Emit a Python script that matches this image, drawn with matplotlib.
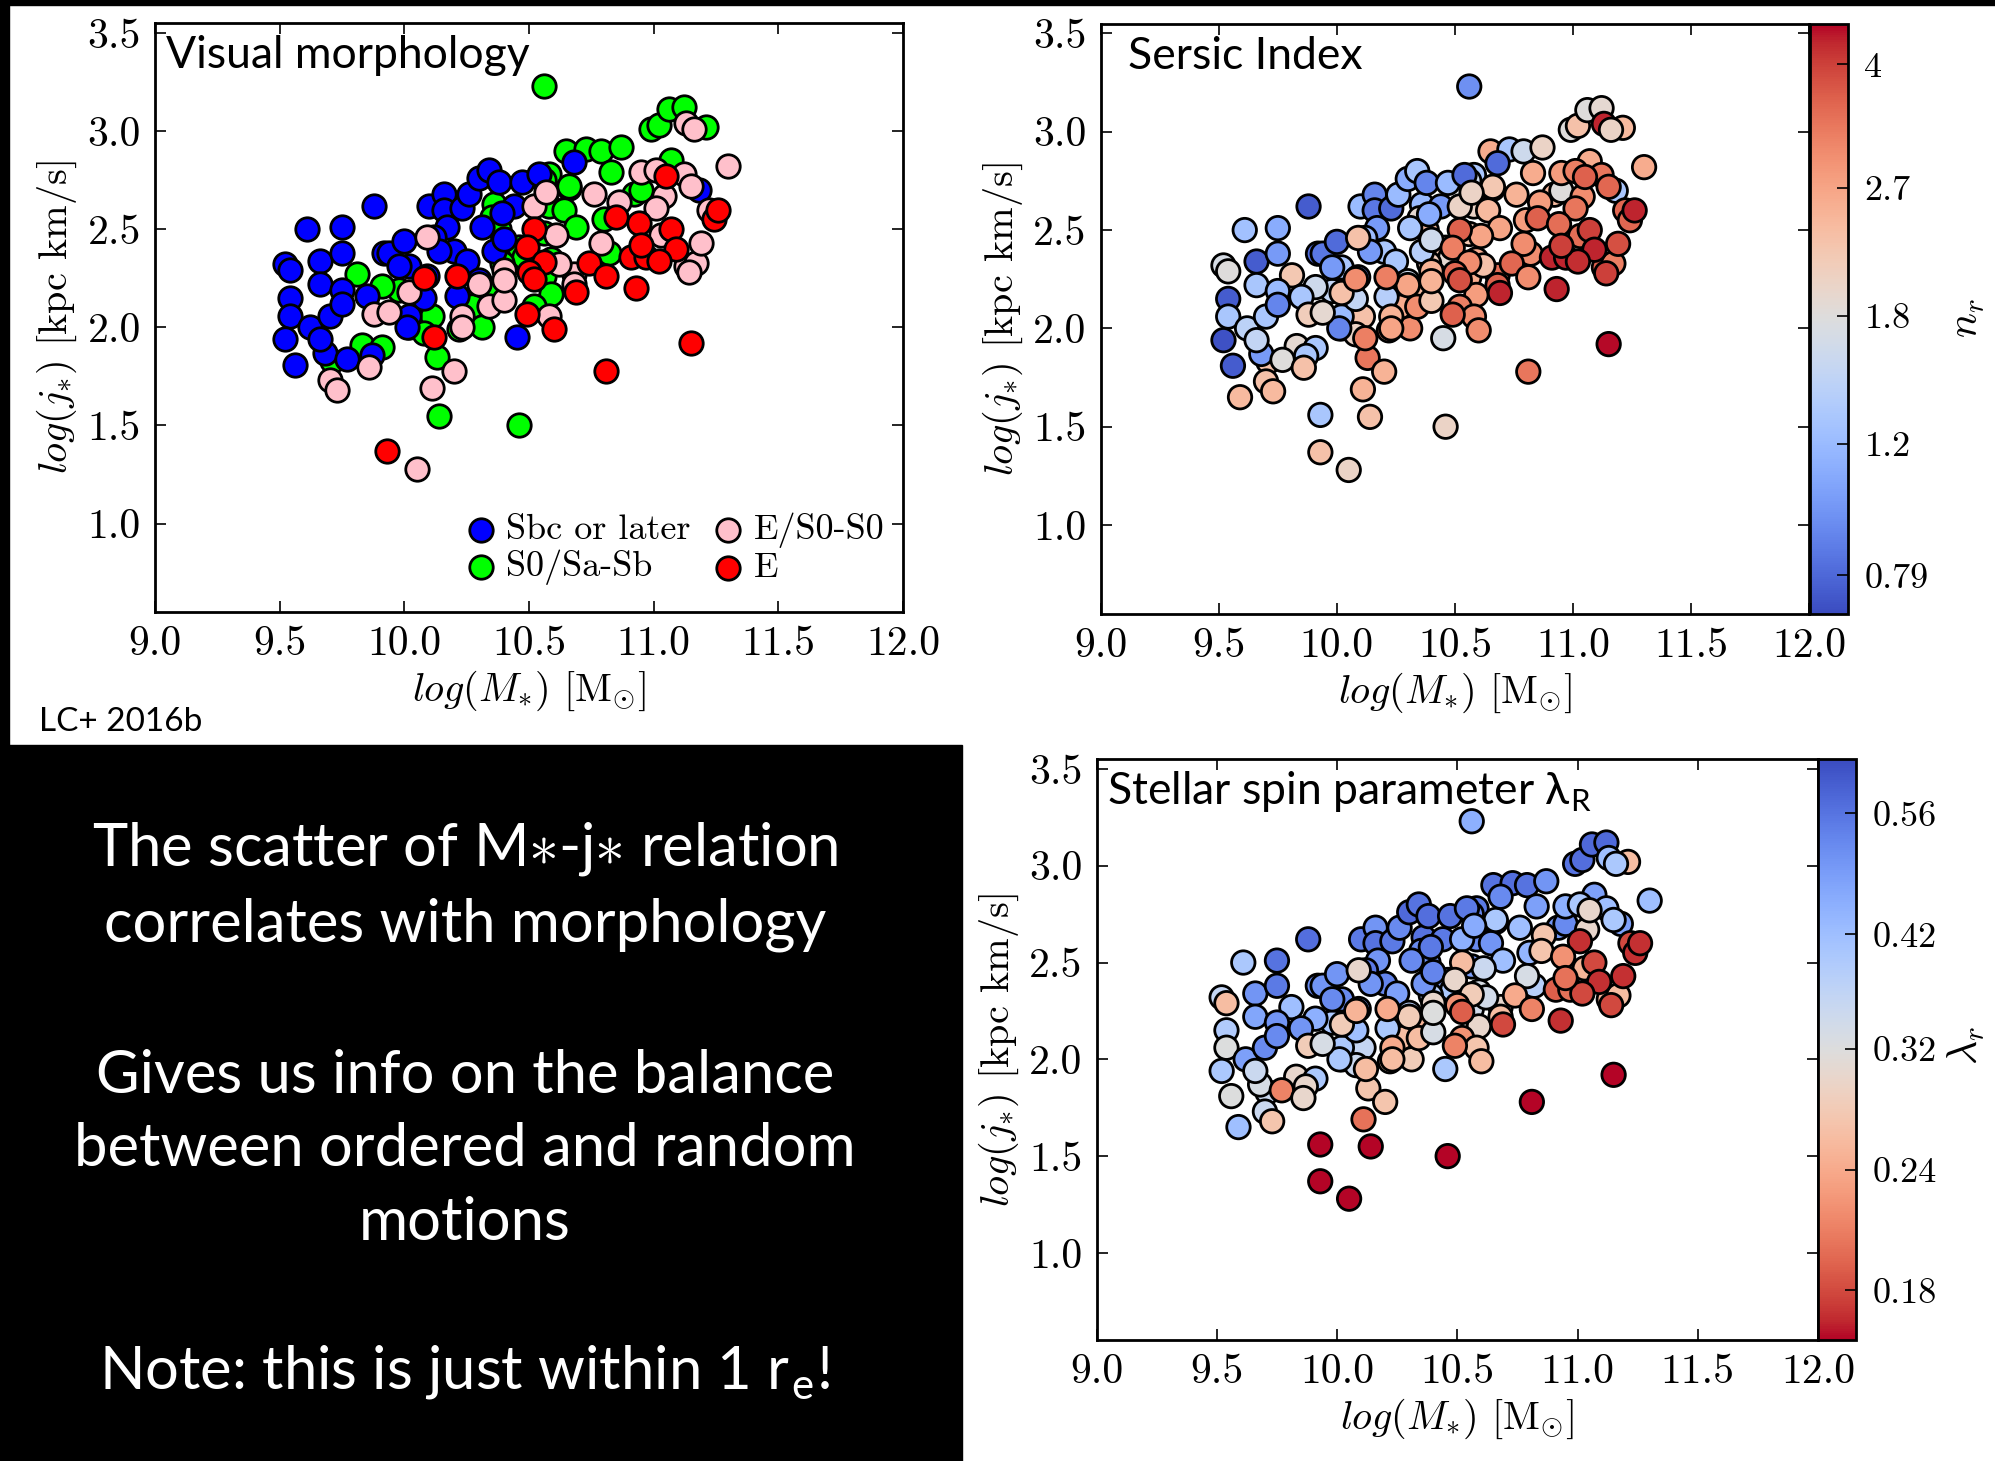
import numpy as np
import matplotlib
matplotlib.use("Agg")
import matplotlib.pyplot as plt
from matplotlib.colors import LogNorm
from matplotlib.patches import Rectangle
from matplotlib.ticker import FormatStrFormatter

plt.rcParams['font.family'] = 'serif'
plt.rcParams['font.serif'] = ['cmr10']
plt.rcParams['mathtext.fontset'] = 'cm'
plt.rcParams['axes.formatter.use_mathtext'] = True
plt.rcParams['axes.unicode_minus'] = False

# Sbc or later
x_sbc = [9.52, 9.54, 9.54, 9.54, 9.52, 9.56, 9.61, 9.62, 9.66, 9.66, 9.68, 9.70, 9.75, 9.75, 9.75, 9.75, 9.77, 9.66,
         9.85, 9.88, 9.92, 9.94, 9.87, 10.00, 10.02, 10.02, 10.10, 10.16, 10.16, 10.23, 10.26, 10.17, 10.12, 10.20,
         10.14, 10.08, 10.21, 10.30, 10.34, 10.38, 10.47, 10.54, 10.44, 10.31, 10.36, 10.39, 10.40, 10.25, 10.30,
         10.45, 10.68, 11.18, 10.09, 9.98, 10.01]
y_sbc = [2.32, 2.29, 2.15, 2.06, 1.94, 1.81, 2.50, 2.00, 2.34, 2.22, 1.87, 2.06, 2.51, 2.38, 2.19, 2.12, 1.84, 1.94,
         2.16, 2.62, 2.38, 2.38, 1.86, 2.44, 2.06, 2.31, 2.62, 2.68, 2.60, 2.61, 2.68, 2.51, 2.46, 2.39,
         2.39, 2.15, 2.16, 2.76, 2.80, 2.74, 2.74, 2.78, 2.62, 2.51, 2.39, 2.58, 2.45, 2.34, 2.24,
         1.95, 2.84, 2.70, 2.26, 2.31, 2.00]
n_sbc = [1.7, 1.8, 0.75, 1.3, 0.72, 0.75, 1.25, 1.45, 0.75, 1.3, 1.0, 1.3, 1.1, 1.0, 1.2, 0.9, 1.8, 1.5,
         1.3, 0.75, 0.8, 0.85, 1.3, 0.8, 1.2, 1.3, 1.2, 0.9, 0.85, 0.8, 1.2, 1.0, 1.2, 1.3,
         1.0, 1.5, 1.4, 1.1, 1.3, 0.9, 1.2, 0.8, 1.0, 1.3, 1.4, 1.1, 1.6, 1.3, 1.6,
         1.7, 0.8, 1.3, 0.9, 1.0, 0.9]
lam_sbc = [0.36, 0.26, 0.39, 0.32, 0.40, 0.32, 0.40, 0.48, 0.50, 0.47, 0.33, 0.52, 0.56, 0.55, 0.50, 0.52, 0.21, 0.35,
           0.50, 0.57, 0.52, 0.50, 0.30, 0.50, 0.40, 0.52, 0.55, 0.50, 0.56, 0.55, 0.52, 0.50, 0.55, 0.53,
           0.50, 0.42, 0.40, 0.58, 0.56, 0.57, 0.56, 0.55, 0.55, 0.52, 0.50, 0.55, 0.53, 0.48, 0.38,
           0.40, 0.52, 0.48, 0.48, 0.52, 0.40]

# S0/Sa-Sb
x_s0 = [10.56, 10.99, 11.02, 11.06, 11.12, 11.21, 10.65, 10.73, 10.79, 10.87, 10.83, 10.66, 10.58, 10.56, 10.92,
        11.07, 10.58, 10.64, 10.69, 10.36, 10.35, 10.38, 10.56, 10.82, 10.80, 10.95, 10.46, 10.48, 10.59, 10.39,
        10.56, 10.59, 10.34, 10.27, 10.31, 10.22, 10.11, 10.02, 9.98, 9.91, 9.81, 9.83, 9.91, 10.13, 10.14,
        10.46, 9.71, 10.52, 10.66, 10.08]
y_s0 = [3.23, 3.01, 3.03, 3.11, 3.12, 3.02, 2.90, 2.91, 2.90, 2.92, 2.79, 2.71, 2.78, 2.75, 2.68,
        2.85, 2.62, 2.60, 2.51, 2.63, 2.56, 2.50, 2.48, 2.38, 2.55, 2.70, 2.41, 2.36, 2.35, 2.33,
        2.26, 2.17, 2.19, 2.11, 2.00, 1.99, 2.06, 2.00, 2.19, 2.21, 2.27, 1.91, 1.90, 1.85, 1.55,
        1.50, 1.83, 2.11, 2.72, 1.97]
n_s0 = [0.95, 1.8, 2.3, 1.8, 1.9, 2.4, 2.6, 1.3, 1.6, 2.0, 2.6, 2.5, 1.3, 1.6, 2.4,
        2.6, 2.0, 2.4, 2.7, 1.2, 1.9, 2.4, 2.2, 3.0, 2.8, 1.8, 2.2, 1.9, 2.6, 2.1,
        2.6, 2.8, 2.4, 2.6, 3.0, 2.8, 2.3, 1.2, 1.5, 1.6, 2.2, 1.9, 1.3, 3.3, 2.3,
        2.0, 2.3, 3.2, 2.2, 2.0]
lam_s0 = [0.45, 0.56, 0.57, 0.58, 0.58, 0.26, 0.56, 0.57, 0.56, 0.50, 0.48, 0.50, 0.55, 0.53, 0.50,
          0.48, 0.52, 0.50, 0.42, 0.56, 0.52, 0.50, 0.48, 0.38, 0.44, 0.52, 0.48, 0.40, 0.33, 0.38,
          0.34, 0.30, 0.25, 0.26, 0.28, 0.27, 0.36, 0.40, 0.40, 0.45, 0.42, 0.30, 0.40, 0.27, 0.16,
          0.16, 0.35, 0.22, 0.40, 0.35]

# E/S0-S0
x_es0 = [11.13, 11.16, 11.30, 10.95, 11.01, 11.12, 11.15, 11.04, 11.01, 10.76, 10.86, 10.52, 10.61, 10.79,
         10.68, 10.68, 10.40, 10.30, 10.34, 10.40, 10.40, 10.62, 11.13, 11.17, 11.14, 11.19, 11.22, 11.03,
         10.09, 10.02, 9.88, 9.94, 10.23, 10.23, 10.58, 9.70, 9.73, 9.86, 10.20, 10.11, 10.05, 10.57]
y_es0 = [3.04, 3.01, 2.82, 2.79, 2.80, 2.78, 2.72, 2.67, 2.61, 2.68, 2.64, 2.62, 2.47, 2.43,
         2.27, 2.22, 2.29, 2.22, 2.11, 2.14, 2.24, 2.32, 2.31, 2.33, 2.28, 2.43, 2.60, 2.47,
         2.46, 2.18, 2.07, 2.08, 2.06, 2.00, 2.06, 1.73, 1.68, 1.80, 1.78, 1.69, 1.28, 2.69]
n_es0 = [4.3, 2.0, 2.6, 2.8, 3.2, 3.3, 3.5, 3.0, 3.3, 2.5, 2.8, 2.0, 2.7, 3.0,
         3.4, 3.6, 2.5, 2.7, 3.0, 2.2, 2.5, 2.3, 3.6, 3.2, 4.0, 3.8, 3.5, 3.4,
         2.3, 2.3, 2.1, 1.9, 2.5, 2.7, 3.0, 2.3, 2.4, 2.3, 2.5, 2.5, 2.0, 2.0]
lam_es0 = [0.42, 0.40, 0.42, 0.45, 0.40, 0.42, 0.40, 0.30, 0.17, 0.42, 0.27, 0.45, 0.35, 0.33,
           0.30, 0.26, 0.30, 0.28, 0.26, 0.33, 0.32, 0.34, 0.25, 0.26, 0.18, 0.17, 0.18, 0.25,
           0.30, 0.28, 0.28, 0.33, 0.24, 0.26, 0.27, 0.35, 0.27, 0.30, 0.27, 0.20, 0.16, 0.46]

# E
x_e = [9.93, 10.08, 10.21, 10.12, 10.52, 10.49, 10.56, 10.50, 10.49, 10.60, 10.74, 10.81, 10.85, 10.94,
       10.91, 10.97, 10.93, 10.81, 11.05, 11.07, 11.09, 11.24, 11.26, 11.15, 11.02, 10.95, 10.52, 10.69]
y_e = [1.37, 2.25, 2.26, 1.95, 2.50, 2.41, 2.335, 2.28, 2.07, 1.99, 2.33, 2.26, 2.56, 2.53,
       2.36, 2.36, 2.20, 1.78, 2.77, 2.50, 2.40, 2.55, 2.60, 1.92, 2.34, 2.42, 2.245, 2.18]
n_e = [2.3, 3.0, 3.2, 3.2, 3.6, 3.2, 3.0, 3.5, 3.6, 3.0, 3.5, 3.0, 3.6, 3.4,
       4.3, 4.3, 4.3, 3.3, 3.6, 4.0, 4.3, 3.5, 4.3, 4.5, 4.2, 4.0, 3.8, 4.3]
lam_e = [0.16, 0.25, 0.24, 0.26, 0.26, 0.30, 0.28, 0.22, 0.21, 0.26, 0.24, 0.21, 0.27, 0.22,
         0.19, 0.20, 0.17, 0.16, 0.30, 0.18, 0.17, 0.17, 0.17, 0.16, 0.18, 0.20, 0.19, 0.18]

# galaxies without a visual class (only in the right panels)
x_nomorph = [9.59, 9.93]
y_nomorph = [1.65, 1.56]
n_nomorph = [2.4, 1.3]
lam_nomorph = [0.42, 0.16]

n_ticks = [0.79, 1.2, 1.8, 2.7, 4]
lam_ticks = [0.18, 0.24, 0.32, 0.42, 0.56]

W, H = 1995, 1461
TICK = 30
CBTICK = 26
LAB = 29


def box(l, t, r, b):
    return [l / W, 1 - b / H, (r - l) / W, (b - t) / H]


def style(ax):
    ax.set_xlim(9, 12)
    ax.set_ylim(0.55, 3.55)
    ax.set_xticks(np.arange(9, 12.01, 0.5))
    ax.set_yticks(np.arange(1.0, 3.51, 0.5))
    ax.xaxis.set_major_formatter(FormatStrFormatter('%.1f'))
    ax.yaxis.set_major_formatter(FormatStrFormatter('%.1f'))
    ax.tick_params(direction='in', top=True, right=True, length=8, width=1.2, labelsize=TICK, pad=10)
    for sp in ax.spines.values():
        sp.set_linewidth(2)
    ax.set_xlabel(r'$log(M_{*})$ [M$_{\odot}$]', fontsize=LAB, labelpad=4)
    ax.set_ylabel(r'$log(j_{*})$ [kpc km/s]', fontsize=LAB, labelpad=6)


fig = plt.figure(figsize=(W / 100, H / 100), dpi=100)
sans = ['Lato', 'DejaVu Sans']

# panel 1: visual morphology
ax1 = fig.add_axes(box(155, 23, 903, 612))
kw = dict(s=285, edgecolors='black', linewidths=2)
sc_g = ax1.scatter(x_s0, y_s0, c='lime', **kw)
sc_b = ax1.scatter(x_sbc, y_sbc, c='blue', **kw)
sc_p = ax1.scatter(x_es0, y_es0, c='pink', **kw)
sc_r = ax1.scatter(x_e, y_e, c='red', **kw)
style(ax1)
ax1.legend([sc_b, sc_g, sc_p, sc_r], ['Sbc or later', 'S0/Sa-Sb', 'E/S0-S0', 'E'], ncol=2,
           loc='lower right', bbox_to_anchor=(0.975, 0.045), frameon=False, fontsize=26,
           scatterpoints=1, handlelength=0.7, handletextpad=0.35, columnspacing=0.7,
           labelspacing=0.1, borderpad=0, borderaxespad=0)
ax1.text(0.015, 0.945, 'Visual morphology', transform=ax1.transAxes, fontsize=32,
         family=sans, va='center', ha='left')

# all galaxies for the coloured panels
x_all = x_s0 + x_sbc + x_es0 + x_e + x_nomorph
y_all = y_s0 + y_sbc + y_es0 + y_e + y_nomorph
n_all = n_s0 + n_sbc + n_es0 + n_e + n_nomorph
lam_all = lam_s0 + lam_sbc + lam_es0 + lam_e + lam_nomorph

# panel 2: Sersic index
ax2 = fig.add_axes(box(1100.6, 23.6, 1809.5, 613.5))
sc2 = ax2.scatter(x_all, y_all, c=n_all, cmap='coolwarm', norm=LogNorm(0.7, 4.55), **kw)
style(ax2)
ax2.text(0.038, 0.945, 'Sersic Index', transform=ax2.transAxes, fontsize=32,
         family=sans, va='center', ha='left')
cax2 = fig.add_axes(box(1809.5, 23.6, 1847.8, 613.5))
cb2 = fig.colorbar(sc2, cax=cax2)
cb2.set_ticks(n_ticks)
cb2.set_ticklabels(['0.79', '1.2', '1.8', '2.7', '4'])
cb2.ax.minorticks_off()
cb2.ax.tick_params(labelsize=CBTICK, direction='in', length=8, width=1.2, pad=12)
cb2.outline.set_linewidth(2)
fig.text(1968 / W, 1 - 318 / H, r'$n_r$', rotation=90, fontsize=30, ha='center', va='center')

# panel 3: stellar spin parameter
ax3 = fig.add_axes(box(1096.6, 759.3, 1818, 1340))
sc3 = ax3.scatter(x_all, y_all, c=lam_all, cmap='coolwarm_r', norm=LogNorm(0.16, 0.637), **kw)
style(ax3)
ax3.text(0.014, 0.945, r'Stellar spin parameter λ$_\mathregular{R}$', transform=ax3.transAxes,
         fontsize=32, family=sans, va='center', ha='left')
cax3 = fig.add_axes(box(1818, 759.3, 1855.7, 1340))
cb3 = fig.colorbar(sc3, cax=cax3)
cb3.set_ticks(lam_ticks)
cb3.set_ticklabels(['0.18', '0.24', '0.32', '0.42', '0.56'])
cb3.ax.minorticks_off()
cb3.ax.tick_params(labelsize=CBTICK, direction='in', length=8, width=1.2, pad=12)
cb3.outline.set_linewidth(2)
fig.text(1966 / W, 1 - 1046 / H, r'$\lambda_r$', rotation=90, fontsize=30, ha='center', va='center')

# slide decoration
fig.patches.append(Rectangle((0, 1 - 5 / H), 1, 5 / H, transform=fig.transFigure, color='black', zorder=-1))
fig.patches.append(Rectangle((0, 0), 9 / W, 1, transform=fig.transFigure, color='black', zorder=-1))
fig.patches.append(Rectangle((0, 0), 962 / W, (H - 745) / H, transform=fig.transFigure, color='black', zorder=-1))

fig.text(39 / W, 1 - 722 / H, 'LC+ 2016b', fontsize=24, family=sans, va='center', ha='left')

lines = [(r'The scatter of M$\ast$-j$\ast$ relation', 849),
         ('correlates with morphology', 925),
         ('Gives us info on the balance', 1076),
         ('between ordered and random', 1149),
         ('motions', 1223),
         (r'Note: this is just within 1 r$_\mathregular{e}$!', 1372)]
for txt, yc in lines:
    fig.text(465 / W, 1 - yc / H, txt, color='white', fontsize=43, family=sans, ha='center', va='center')

fig.savefig('out.png', dpi=100)
